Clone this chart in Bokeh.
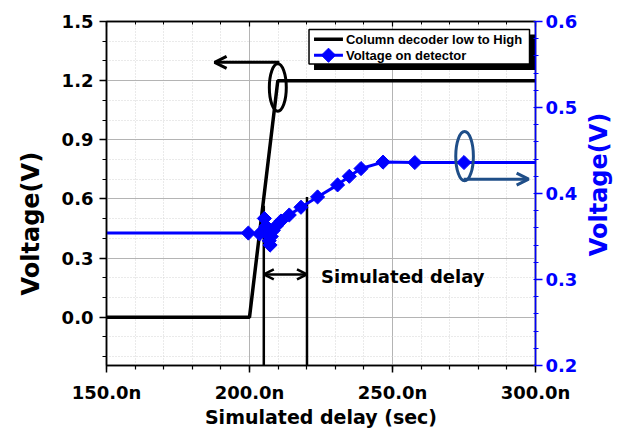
from math import pi
from bokeh.plotting import figure
from bokeh.models import (Range1d, LinearAxis, SingleIntervalTicker, PrintfTickFormatter,
                          Arrow, OpenHead, Label, Title)
from bokeh.embed import file_html
from bokeh.resources import INLINE

# ---------------- data ----------------
decoder_t = [150.0, 200.0, 209.9, 300.0]          # ns
decoder_v = [0.0, 0.0, 1.2, 1.2]                  # V (left axis)

detector_t = [199.6, 203.5, 205.2, 205.8, 206.3, 206.9, 207.2, 207.6, 208.3, 209.3,
              211.0, 213.9, 218.0, 223.8, 230.8, 234.9, 239.0, 246.7, 257.8, 275.0]
detector_v = [0.354, 0.353, 0.371, 0.362, 0.352, 0.345, 0.340, 0.350, 0.357, 0.362,
              0.368, 0.375, 0.384, 0.396, 0.410, 0.420, 0.429, 0.4365, 0.436, 0.436]
detector_line_t = [150.0] + detector_t + [300.0]
detector_line_v = [0.354] + detector_v + [0.436]

delay_x = [205.0, 220.1]
delay_top = [0.565, 0.61]

legend_labels = ["Column decoder low to High", "Voltage on detector"]
x_ticks_label_fmt = "%.1fn"
left_range = (-0.245, 1.5)
right_range = (0.2, 0.6 + 1e-9)

FONT = "DejaVu Sans"
BLUE = "#0000ff"
NAVY = "#1f4e88"

p = figure(width=619, height=430, output_backend="svg", toolbar_location=None,
           x_range=Range1d(150, 300), y_range=Range1d(*left_range),
           min_border_left=105, min_border_right=84, min_border_top=21, min_border_bottom=62,
           background_fill_color="white", border_fill_color="white")
p.outline_line_color = "black"
p.outline_line_width = 1.5

p.extra_y_ranges = {"right": Range1d(*right_range)}

# axes
p.xaxis.ticker = SingleIntervalTicker(interval=50, num_minor_ticks=5)
p.yaxis.ticker = SingleIntervalTicker(interval=0.3, num_minor_ticks=3)
p.xaxis.formatter = PrintfTickFormatter(format=x_ticks_label_fmt)
p.yaxis.formatter = PrintfTickFormatter(format="%.1f")
for ax in (p.xaxis[0], p.yaxis[0]):
    ax.axis_line_width = 1.5
    ax.axis_line_color = "black"
    ax.major_tick_line_color = "black"
    ax.minor_tick_line_color = "black"
    ax.major_tick_line_width = 1.5
    ax.minor_tick_line_width = 1.2
    ax.major_tick_out = 7
    ax.major_tick_in = 0
    ax.minor_tick_out = 4
    ax.minor_tick_in = 0
    ax.major_label_text_font = FONT
    ax.major_label_text_font_style = "bold"
    ax.major_label_text_font_size = "18px"
    ax.major_label_text_color = "black"
p.xaxis.major_label_standoff = 9
p.yaxis.major_label_standoff = 6
p.xaxis.axis_label = "Simulated delay (sec)"
p.xaxis.axis_label_text_font = FONT
p.xaxis.axis_label_text_font_style = "bold"
p.xaxis.axis_label_text_font_size = "19px"
p.xaxis.axis_label_text_color = "black"
p.xaxis.axis_label_standoff = 0

top = LinearAxis(ticker=SingleIntervalTicker(interval=50, num_minor_ticks=5),
                 major_label_text_font_size="0px", major_label_standoff=0,
                 major_tick_in=5, major_tick_out=0, minor_tick_in=3, minor_tick_out=0,
                 axis_line_width=1.5, major_tick_line_width=1.2, minor_tick_line_width=1)
p.add_layout(top, "above")

right = LinearAxis(y_range_name="right",
                   ticker=SingleIntervalTicker(interval=0.1, num_minor_ticks=5),
                   formatter=PrintfTickFormatter(format="%.1f"),
                   axis_line_color=BLUE, axis_line_width=1.5,
                   major_tick_line_color=BLUE, minor_tick_line_color=BLUE,
                   major_tick_line_width=1.5, minor_tick_line_width=1.2,
                   major_tick_out=7, major_tick_in=0, minor_tick_out=3, minor_tick_in=2,
                   major_label_text_color=BLUE, major_label_text_font=FONT,
                   major_label_text_font_style="bold", major_label_text_font_size="18px",
                   major_label_standoff=3)
p.add_layout(right, "right")

# right axis title, placed in the right side panel (canvas coordinates)
p.add_layout(Label(x=598, y=184, x_units="canvas", y_units="canvas",
                   text="Voltage(V)", angle=pi / 2, text_align="center",
                   text_baseline="middle", text_font=FONT, text_font_style="bold",
                   text_font_size="24px", text_color=BLUE), "right")

# left title (starts lower than the frame centre, like the reference)
p.add_layout(Title(text="Voltage(V)", align="left", offset=70, standoff=28,
                   text_font=FONT, text_font_style="bold", text_font_size="24px",
                   text_color="black"), "left")

# grids
for g in (p.xgrid[0], p.ygrid[0]):
    g.grid_line_color = "#b4b4b4"
    g.grid_line_width = 1
    g.minor_grid_line_color = "#d4d4d4"
    g.minor_grid_line_dash = "1 2"
    g.minor_grid_line_width = 1

# series
p.line(decoder_t, decoder_v, line_color="black", line_width=3.5)
p.segment(x0=delay_x, y0=[left_range[0]] * 2, x1=delay_x, y1=delay_top,
          line_color="black", line_width=2.5)
p.line(detector_line_t, detector_line_v, y_range_name="right",
       line_color=BLUE, line_width=3)
p.scatter(detector_t, detector_v, y_range_name="right", marker="square",
          angle=pi / 4, size=10, fill_color=BLUE, line_color=BLUE)

# annotations
p.ellipse(x=[209.9], y=[1.165], width=[5.93], height=[0.241], fill_color=None,
          line_color="black", line_width=3)
p.add_layout(Arrow(end=OpenHead(size=12, line_width=3, line_color="black"),
                   x_start=210.45, y_start=1.293, x_end=187.8, y_end=1.293,
                   line_width=3, line_color="black"))
p.ellipse(x=[275.2], y=[0.817], width=[6.17], height=[0.251], fill_color=None,
          line_color=NAVY, line_width=3)
p.add_layout(Arrow(end=OpenHead(size=12, line_width=3, line_color=NAVY),
                   x_start=274.9, y_start=0.70, x_end=297.6, y_end=0.70,
                   line_width=3, line_color=NAVY))
p.add_layout(Arrow(start=OpenHead(size=10, line_width=2.5, line_color="black"),
                   end=OpenHead(size=10, line_width=2.5, line_color="black"),
                   x_start=delay_x[0], y_start=0.217, x_end=delay_x[1], y_end=0.217,
                   line_width=2.5, line_color="black"))
p.add_layout(Label(x=225.0, y=0.2075, text="Simulated delay", text_baseline="middle",
                   text_align="left", text_font=FONT, text_font_style="bold",
                   text_font_size="18px", text_color="black"))

# legend (drawn by hand: white box with a black drop shadow)
p.quad(left=[222.56], right=[300.0], bottom=[1.2536], top=[1.4346],
       fill_color="black", line_color=None)
p.quad(left=[220.81], right=[297.91], bottom=[1.2838], top=[1.4598],
       fill_color="white", line_color="black", line_width=1.5)
row_y = [1.4095, 1.3290]
p.segment(x0=[222.56], y0=[row_y[0]], x1=[232.67], y1=[row_y[0]],
          line_color="black", line_width=3.5)
p.segment(x0=[222.56], y0=[row_y[1]], x1=[232.67], y1=[row_y[1]],
          line_color=BLUE, line_width=3)
p.scatter([227.62], [row_y[1]], marker="square", angle=pi / 4, size=10,
          fill_color=BLUE, line_color=BLUE)
for lbl, yy in zip(legend_labels, row_y):
    p.add_layout(Label(x=233.72, y=yy, text=lbl, text_baseline="middle", text_align="left",
                       text_font="Liberation Sans", text_font_style="bold",
                       text_font_size="13px", text_color="black"))

open("out.html", "w").write(file_html(p, INLINE))
